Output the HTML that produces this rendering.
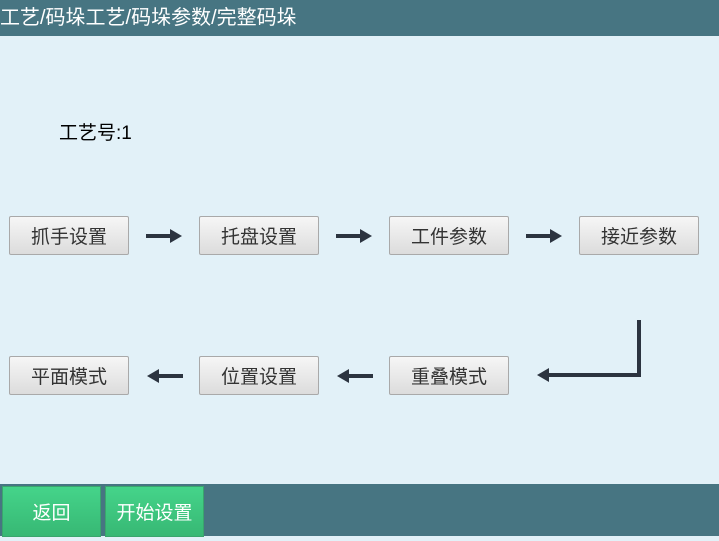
<!DOCTYPE html>
<html><head><meta charset="utf-8"><style>
body{margin:0;width:719px;height:536px;background:#e2f1f8;position:relative;overflow:hidden;font-family:"Liberation Sans","Noto Sans CJK SC",sans-serif;}
.hdr{position:absolute;left:0;top:0;width:719px;height:36px;background:#477582;color:#fff;font-size:20px;line-height:36px;white-space:nowrap;}
.lbl{position:absolute;left:59px;top:118px;font-size:19px;color:#000;}
.b{position:absolute;width:118px;height:37px;border:1px solid #a9a9a9;border-radius:2px;background:linear-gradient(#f6f6f6,#dcdcdc);color:#333;font-size:19px;line-height:41px;text-align:center;}
.foot{position:absolute;left:0;top:484px;width:719px;height:52px;background:#477582;}
.g{position:absolute;top:486px;width:97px;height:49px;background:linear-gradient(#45d48a,#37b874);border:1px solid #3aa56d;color:#fff;font-size:19px;line-height:54px;text-align:center;}
svg{position:absolute;left:0;top:0;}
</style></head><body>
<div class="hdr">工艺/码垛工艺/码垛参数/完整码垛</div>
<div class="lbl">工艺号:1</div>
<div class="b" style="left:9px;top:216px">抓手设置</div>
<div class="b" style="left:199px;top:216px">托盘设置</div>
<div class="b" style="left:389px;top:216px">工件参数</div>
<div class="b" style="left:579px;top:216px">接近参数</div>
<div class="b" style="left:9px;top:356px">平面模式</div>
<div class="b" style="left:199px;top:356px">位置设置</div>
<div class="b" style="left:389px;top:356px">重叠模式</div>
<svg width="719" height="536" fill="#2c3440">
<rect x="146" y="234" width="26" height="4"/><polygon points="170,229 182,236 170,243"/>
<rect x="336" y="234" width="26" height="4"/><polygon points="360,229 372,236 360,243"/>
<rect x="526" y="234" width="26" height="4"/><polygon points="550,229 562,236 550,243"/>
<rect x="157" y="374" width="26" height="4"/><polygon points="159,369 147,376 159,383"/>
<rect x="347" y="374" width="26" height="4"/><polygon points="349,369 337,376 349,383"/>
<rect x="637" y="320" width="4" height="57"/><rect x="547" y="373" width="94" height="4"/><polygon points="549,368 537,375 549,382"/>
</svg>
<div class="foot"></div>
<div class="g" style="left:2px">返回</div>
<div class="g" style="left:105px">开始设置</div>
</body></html>
